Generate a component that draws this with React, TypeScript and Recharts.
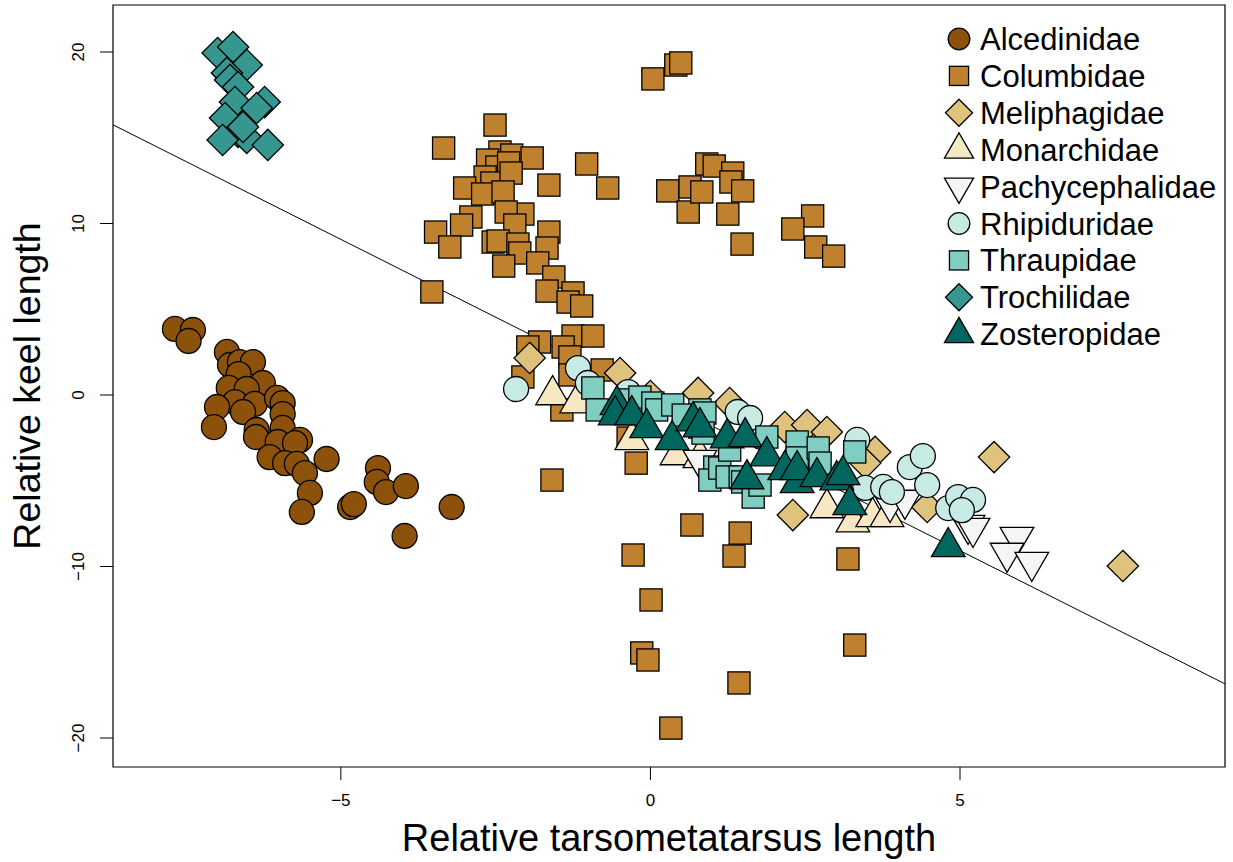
import {
  ScatterChart,
  Scatter,
  XAxis,
  YAxis,
  ReferenceLine,
  ReferenceArea,
  Legend,
  Label,
} from "recharts";

type Pt = [number, number];
type ShapeKind = "circle" | "square" | "diamond" | "up" | "down";

// relative tarsometatarsus length (x) vs relative keel length (y), per family
const alcedinidae: Pt[] = [
  [-7.68, 3.85], [-7.39, 3.79], [-7.46, 3.15], [-6.84, 2.51], [-6.79, 1.75],
  [-6.63, 1.92], [-6.42, 1.92], [-6.65, 1.22], [-6.26, 0.7], [-6.81, 0.41],
  [-6.52, 0.35], [-6.71, -0.41], [-6.39, -0.52], [-6.03, -0.17], [-5.94, -0.47],
  [-7.0, -0.7], [-6.58, -0.99], [-5.94, -1.11], [-7.05, -1.87], [-6.36, -2.04],
  [-6.37, -2.45], [-5.94, -1.92], [-6.02, -2.74], [-5.66, -2.62], [-5.74, -2.8],
  [-6.15, -3.62], [-5.9, -3.97], [-5.71, -4.02], [-5.58, -4.55], [-5.23, -3.73],
  [-5.5, -5.71], [-5.63, -6.82], [-4.4, -4.26], [-4.42, -5.07], [-4.27, -5.66],
  [-3.95, -5.31], [-4.85, -6.53], [-4.79, -6.36], [-3.21, -6.53], [-3.97, -8.22],
];

const columbidae: Pt[] = [
  [-2.51, 15.74], [-3.34, 14.4], [-2.43, 14.17], [-2.63, 13.7], [-2.24, 13.99],
  [-2.48, 13.29], [-2.29, 13.53], [-1.91, 13.82], [-2.67, 12.71], [-2.56, 12.36],
  [-2.25, 12.94], [-3.0, 12.07], [-2.71, 11.72], [-2.38, 11.84], [-1.64, 12.24],
  [-1.03, 13.47], [-0.69, 12.07], [-2.9, 10.38], [-3.05, 9.91], [-3.47, 9.5],
  [-3.24, 8.63], [-2.06, 10.55], [-2.33, 10.67], [-2.19, 9.91], [-2.54, 8.92],
  [-2.46, 8.98], [-2.14, 8.8], [-2.11, 8.28], [-2.37, 7.52], [-1.64, 9.5],
  [-1.67, 8.57], [-1.82, 7.7], [-1.56, 6.88], [-1.67, 6.06], [-1.25, 5.95],
  [-1.33, 5.42], [-1.11, 5.19], [-3.53, 6.01], [-1.25, 3.44], [-0.93, 3.44],
  [-1.79, 3.09], [-1.98, 2.8], [-1.41, 2.8], [-1.3, 2.22], [-2.06, 1.05],
  [-1.3, 1.17], [-1.43, -0.87], [-0.78, 1.46], [-0.36, -2.51],
  [0.04, 18.43], [0.41, 19.24], [0.49, 19.36], [0.28, 11.9], [0.61, 10.67],
  [0.64, 12.13], [0.83, 11.84], [0.91, 13.47], [1.03, 13.35], [1.33, 12.94],
  [1.3, 12.42], [1.49, 11.9], [1.25, 10.55], [1.48, 8.8], [2.62, 10.44],
  [2.3, 9.68], [2.67, 8.63], [2.96, 8.1],
  [-1.59, -4.96], [-0.23, -3.97], [0.67, -7.58], [1.45, -8.05], [-0.28, -9.33],
  [1.35, -9.39], [3.19, -9.56], [0.01, -11.95], [-0.14, -15.04], [-0.04, -15.45],
  [3.3, -14.58], [1.43, -16.79], [0.33, -19.42],
];

const meliphagidae: Pt[] = [
  [-1.95, 2.16], [-0.49, 1.28], [0.0, -0.06], [0.77, 0.12], [1.28, -0.47],
  [2.17, -1.87], [2.53, -1.75], [2.85, -2.16], [3.63, -3.32], [3.47, -3.97],
  [2.3, -7.0], [4.47, -6.53], [5.55, -3.62], [7.63, -9.97],
];

const monarchidae: Pt[] = [
  [-1.58, 0.0], [-1.19, -0.47], [-0.3, -2.62], [0.43, -3.5], [0.8, -3.67],
  [2.85, -6.59], [3.27, -7.41], [3.59, -7.11], [3.82, -7.11],
];

const pachycephalidae: Pt[] = [
  [0.8, -3.79], [3.87, -6.3], [4.11, -6.12], [5.13, -7.58], [5.21, -7.76],
  [5.92, -8.28], [5.76, -9.21], [6.16, -9.74],
];

const rhipiduridae: Pt[] = [
  [-2.17, 0.35], [-1.17, 1.57], [-1.01, 0.7], [-0.36, 0.17], [1.41, -0.99],
  [1.61, -1.34], [3.34, -2.62], [3.47, -5.42], [3.76, -5.36], [3.9, -5.66],
  [4.19, -4.2], [4.4, -3.56], [4.47, -5.25], [4.81, -6.59], [4.97, -5.95],
  [5.21, -6.12], [5.03, -6.71],
];

const thraupidae: Pt[] = [
  [-0.93, 0.41], [-0.86, -0.87], [-0.38, -0.29], [-0.17, -0.12], [0.04, -0.47],
  [0.1, -0.87], [0.36, -0.58], [0.8, -0.87], [0.53, -1.17], [0.8, -1.87],
  [0.88, -1.05], [1.04, -4.2], [0.96, -4.96], [1.12, -4.26], [1.24, -4.78],
  [1.45, -4.78], [1.49, -5.07], [1.66, -5.95], [1.77, -5.25], [1.88, -2.45],
  [2.37, -2.74], [2.37, -3.67], [2.71, -3.09], [2.74, -3.97], [3.3, -3.32],
  [0.85, -2.22], [1.28, -3.21],
];

const trochilidae: Pt[] = [
  [-6.99, 19.94], [-6.74, 20.29], [-6.52, 19.24], [-6.84, 18.78], [-6.79, 18.37],
  [-6.66, 17.96], [-6.71, 17.08], [-6.23, 17.08], [-6.36, 16.73], [-6.87, 16.15],
  [-6.66, 15.34], [-6.52, 14.99], [-6.91, 14.87], [-6.18, 14.58], [-6.58, 15.63],
];

const zosteropidae: Pt[] = [
  [-0.54, -0.58], [-0.57, -1.17], [-0.3, -1.17], [-0.06, -1.92], [0.35, -2.62],
  [0.69, -1.52], [0.8, -1.87], [1.24, -2.51], [1.53, -2.45], [1.56, -4.9],
  [1.88, -3.56], [2.17, -4.37], [2.37, -5.13], [2.37, -4.37], [2.69, -4.78],
  [3.01, -4.96], [3.11, -4.66], [3.22, -6.41], [4.81, -8.86],
];

const xTicks = [-5, 0, 5];
const yTicks = [-20, -10, 0, 10, 20];
const xDomain: [number, number] = [-8.68, 9.28];
const yDomain: [number, number] = [-21.69, 22.74];

// fitted line through the pooled data
const fitSlope = -1.815;
const fitIntercept = 0;

const families: { name: string; kind: ShapeKind; fill: string; data: Pt[] }[] = [
  { name: "Alcedinidae", kind: "circle", fill: "#8C510A", data: alcedinidae },
  { name: "Columbidae", kind: "square", fill: "#BF812D", data: columbidae },
  { name: "Meliphagidae", kind: "diamond", fill: "#DFC27D", data: meliphagidae },
  { name: "Monarchidae", kind: "up", fill: "#F6E8C3", data: monarchidae },
  { name: "Pachycephalidae", kind: "down", fill: "#F5F5F5", data: pachycephalidae },
  { name: "Rhipiduridae", kind: "circle", fill: "#C7EAE5", data: rhipiduridae },
  { name: "Thraupidae", kind: "square", fill: "#80CDC1", data: thraupidae },
  { name: "Trochilidae", kind: "diamond", fill: "#35978F", data: trochilidae },
  { name: "Zosteropidae", kind: "up", fill: "#01665E", data: zosteropidae },
];

const FONT = "'Liberation Sans', Arial, Helvetica, sans-serif";

// base-R style filled symbols (pch 21-25), a = symbol radius
function Marker({ cx, cy, kind, fill, a }: { cx: number; cy: number; kind: ShapeKind; fill: string; a: number }) {
  const common = { fill, stroke: "#000", strokeWidth: 1.3 };
  if (kind === "circle") return <circle cx={cx} cy={cy} r={a} {...common} />;
  if (kind === "square") {
    const s = a * 0.886;
    return <rect x={cx - s} y={cy - s} width={2 * s} height={2 * s} {...common} />;
  }
  if (kind === "diamond") {
    const d = a * 1.253;
    return <polygon points={`${cx},${cy - d} ${cx + d},${cy} ${cx},${cy + d} ${cx - d},${cy}`} {...common} />;
  }
  const r = a * 1.555;
  const xc = a * 1.347;
  const yc = a * 0.778;
  if (kind === "up")
    return <polygon points={`${cx},${cy - r} ${cx + xc},${cy + yc} ${cx - xc},${cy + yc}`} {...common} />;
  return <polygon points={`${cx},${cy + r} ${cx + xc},${cy - yc} ${cx - xc},${cy - yc}`} {...common} />;
}

const fmtTick = (v: number) => (v < 0 ? `\u2212${Math.abs(v)}` : `${v}`);

function XTick({ x, y, payload }: any) {
  return (
    <text x={x} y={y + 24} textAnchor="middle" fontSize={17} fontFamily={FONT} fill="#000">
      {fmtTick(payload.value)}
    </text>
  );
}

function YTick({ x, y, payload }: any) {
  const bx = x - 14;
  return (
    <text x={bx} y={y} transform={`rotate(-90, ${bx}, ${y})`} textAnchor="middle" fontSize={17} fontFamily={FONT} fill="#000">
      {fmtTick(payload.value)}
    </text>
  );
}

function FamilyLegend() {
  const rowH = 36.9;
  return (
    <svg width={300} height={340}>
      {families.map((f, i) => {
        const cy = 19 + i * rowH;
        return (
          <g key={f.name}>
            <Marker cx={29} cy={cy} kind={f.kind} fill={f.fill} a={10.8} />
            <text x={50} y={cy + 11} fontSize={31} fontFamily={FONT} fill="#000">
              {f.name}
            </text>
          </g>
        );
      })}
    </svg>
  );
}

export default function App() {
  return (
    <div style={{ position: "absolute", left: 0, top: 0, background: "#fff" }}>
      <ScatterChart width={1233} height={862} margin={{ top: 5, right: 8, bottom: 0, left: 0 }}>
        <XAxis
          type="number"
          dataKey="x"
          domain={xDomain}
          allowDataOverflow
          ticks={xTicks}
          interval={0}
          height={95}
          axisLine={false}
          tickSize={13}
          tickLine={{ stroke: "#000", strokeWidth: 1 }}
          tick={<XTick />}
        >
          <Label
            content={({ viewBox }: any) => (
              <text
                x={viewBox.x + viewBox.width / 2}
                y={viewBox.y + 84}
                textAnchor="middle"
                fontSize={38}
                fontFamily={FONT}
                fill="#000"
              >
                Relative tarsometatarsus length
              </text>
            )}
          />
        </XAxis>
        <YAxis
          type="number"
          dataKey="y"
          domain={yDomain}
          allowDataOverflow
          ticks={yTicks}
          interval={0}
          width={113}
          axisLine={false}
          tickSize={13}
          tickLine={{ stroke: "#000", strokeWidth: 1 }}
          tick={<YTick />}
        >
          <Label
            content={({ viewBox }: any) => {
              const lx = viewBox.x + 40;
              const ly = viewBox.y + viewBox.height / 2;
              return (
                <text
                  x={lx}
                  y={ly}
                  transform={`rotate(-90, ${lx}, ${ly})`}
                  textAnchor="middle"
                  fontSize={37.5}
                  fontFamily={FONT}
                  fill="#000"
                >
                  Relative keel length
                </text>
              );
            }}
          />
        </YAxis>
        <ReferenceArea
          x1={xDomain[0]}
          x2={xDomain[1]}
          y1={yDomain[0]}
          y2={yDomain[1]}
          fill="none"
          fillOpacity={0}
          stroke="#000"
          strokeWidth={1.2}
        />
        {families.map((f) => (
          <Scatter
            key={f.name}
            name={f.name}
            data={f.data.map(([x, y]) => ({ x, y }))}
            isAnimationActive={false}
            shape={(p: any) => <Marker cx={p.cx} cy={p.cy} kind={f.kind} fill={f.fill} a={12.5} />}
          />
        ))}
        <ReferenceLine
          segment={[
            { x: xDomain[0], y: fitIntercept + fitSlope * xDomain[0] },
            { x: xDomain[1], y: fitIntercept + fitSlope * xDomain[1] },
          ]}
          stroke="#000"
          strokeWidth={1}
          ifOverflow="visible"
        />
        <Legend
          layout="vertical"
          align="center"
          verticalAlign="middle"
          wrapperStyle={{ left: 930, top: 20, width: 300, height: 340 }}
          content={() => <FamilyLegend />}
        />
      </ScatterChart>
    </div>
  );
}
